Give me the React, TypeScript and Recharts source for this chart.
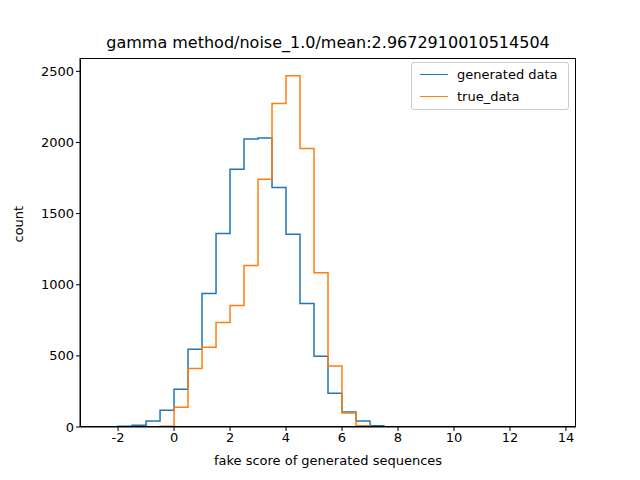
import { LineChart, Line, XAxis, YAxis } from 'recharts';

// bin edges (width 0.5) and counts
const generatedEdges = [-2.5, -2, -1.5, -1, -0.5, 0, 0.5, 1, 1.5, 2, 2.5, 3, 3.5, 4, 4.5, 5, 5.5, 6, 6.5, 7, 7.5];
const generatedCounts = [2, 5, 12, 42, 117, 265, 546, 939, 1360, 1812, 2025, 2032, 1683, 1355, 869, 498, 237, 105, 42, 9];

const trueEdges = [-0.5, 0, 0.5, 1, 1.5, 2, 2.5, 3, 3.5, 4, 4.5, 5, 5.5, 6, 6.5, 7, 7.5, 8, 9, 10, 11, 12, 13.5];
const trueCounts = [5, 138, 412, 560, 735, 855, 1135, 1741, 2275, 2470, 1957, 1084, 428, 98, 9, 2, 1, 1, 0, 0, 1, 0];

const xTicks = [-2, 0, 2, 4, 6, 8, 10, 12, 14];
const yTicks = [0, 500, 1000, 1500, 2000, 2500];

function toSteps(edges: number[], counts: number[]) {
  const pts = [{ x: edges[0], y: 0 }];
  counts.forEach((c, i) => pts.push({ x: edges[i], y: c }));
  pts.push({ x: edges[edges.length - 1], y: 0 });
  return pts;
}

const font = 'DejaVu Sans, sans-serif';

export default function App() {
  const generated = toSteps(generatedEdges, generatedCounts);
  const truth = toSteps(trueEdges, trueCounts);
  return (
    <div style={{ position: 'absolute', left: 0, top: 0, width: 640, height: 480, background: '#fff', fontFamily: font }}>
      <div style={{ position: 'absolute', top: 33, left: 80, width: 496, textAlign: 'center', fontSize: 16 }}>
        gamma method/noise_1.0/mean:2.9672910010514504
      </div>
      <LineChart width={640} height={480} margin={{ top: 58, right: 64, bottom: 23, left: 20 }}>
        <XAxis
          type="number"
          dataKey="x"
          domain={[-3.36, 14.36]}
          ticks={xTicks}
          allowDataOverflow
          tickSize={4}
          stroke="#000"
          tick={{ fill: '#000', fontSize: 13, fontFamily: font }}
          label={{ value: 'fake score of generated sequences', position: 'insideBottom', offset: -8, fill: '#000', fontSize: 13, fontFamily: font }}
        />
        <YAxis
          type="number"
          domain={[0, 2594]}
          ticks={yTicks}
          allowDataOverflow
          width={60}
          tickSize={4}
          stroke="#000"
          tick={{ fill: '#000', fontSize: 13, fontFamily: font }}
          label={{ value: 'count', angle: -90, position: 'insideLeft', offset: -2, fill: '#000', fontSize: 13, fontFamily: font }}
        />
        <Line data={generated} dataKey="y" type="stepAfter" stroke="#1f77b4" strokeWidth={1.5} dot={false} isAnimationActive={false} />
        <Line data={truth} dataKey="y" type="stepAfter" stroke="#ff7f0e" strokeWidth={1.5} dot={false} isAnimationActive={false} />
      </LineChart>
      <div style={{ position: 'absolute', left: 80, top: 58, width: 496, height: 369, boxSizing: 'border-box', border: '1px solid #000', pointerEvents: 'none' }} />
      <div style={{ position: 'absolute', left: 411, top: 62, width: 156, height: 46, border: '1px solid #ccc', borderRadius: 3, background: '#fff', fontSize: 13 }}>
        {[['generated data', '#1f77b4'], ['true_data', '#ff7f0e']].map(([name, color], i) => (
          <div key={name} style={{ position: 'absolute', left: 8, top: 4 + i * 22, display: 'flex', alignItems: 'center' }}>
            <span style={{ display: 'inline-block', width: 28, height: 0, borderTop: `1.5px solid ${color}`, marginRight: 9 }} />
            {name}
          </div>
        ))}
      </div>
    </div>
  );
}
